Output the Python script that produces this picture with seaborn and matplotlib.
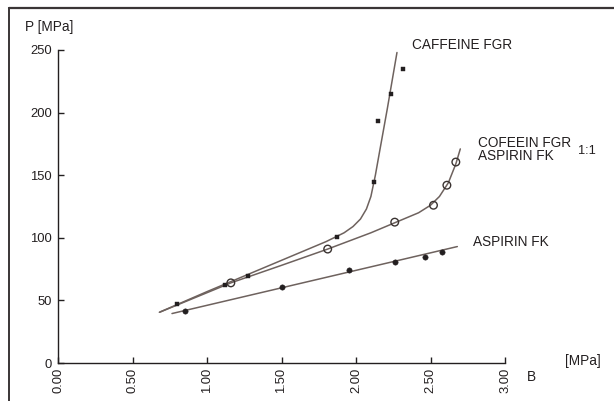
import matplotlib
matplotlib.use("Agg")
import matplotlib.pyplot as plt
import seaborn as sns

# Measured points: pressure P [MPa] against B [MPa]
caffeine_b = [0.80, 1.12, 1.275, 1.87, 2.12, 2.15, 2.235, 2.315]
caffeine_p = [47, 62, 69.5, 100.5, 144.5, 193, 215, 235]

mix_b = [1.16, 1.81, 2.26, 2.52, 2.61, 2.67]
mix_p = [64, 91, 112.5, 126, 142, 160.5]

aspirin_b = [0.85, 1.50, 1.95, 2.26, 2.46, 2.58]
aspirin_p = [41.5, 61, 74, 81, 85, 88.5]

# Hand-drawn trend curves through each series
caffeine_curve_b = [0.68, 1.0, 1.5, 1.8, 1.92, 1.98, 2.03, 2.07, 2.10, 2.13, 2.16, 2.21, 2.275]
caffeine_curve_p = [40.5, 57, 82, 97, 104, 109, 115, 123, 133, 150, 170, 203, 248]

mix_curve_b = [0.685, 1.16, 1.5, 1.81, 2.1, 2.3, 2.42, 2.5, 2.56, 2.62, 2.67, 2.70]
mix_curve_p = [40.7, 64, 78, 91, 104, 114, 120, 126, 133, 144, 159, 171]

aspirin_curve_b = [0.765, 2.68]
aspirin_curve_p = [39.5, 93]

x_ticks = [0.0, 0.5, 1.0, 1.5, 2.0, 2.5, 3.0]
x_tick_labels = ["0.00", "0.50", "1.00", "1.50", "2.00", "2.50", "3.00"]
y_ticks = [0, 50, 100, 150, 200, 250]

sns.set_style("ticks")
plt.rcParams["font.family"] = ["Liberation Sans", "DejaVu Sans"]

ink = "#231f20"
line_col = "#6e625e"

fig = plt.figure(figsize=(6.14, 4.01), dpi=100)
ax = fig.add_axes([58 / 614, 38 / 401, 447 / 614, 313 / 401])

curves = [
    (caffeine_curve_b, caffeine_curve_p),
    (mix_curve_b, mix_curve_p),
    (aspirin_curve_b, aspirin_curve_p),
]
for cb, cp in curves:
    sns.lineplot(x=cb, y=cp, ax=ax, sort=False, color=line_col, lw=1.1,
                 estimator=None, zorder=2)

sns.scatterplot(x=caffeine_b, y=caffeine_p, ax=ax, marker="s", s=9,
                color=ink, edgecolor=ink, linewidth=0.3, zorder=3)
sns.scatterplot(x=aspirin_b, y=aspirin_p, ax=ax, marker="o", s=15,
                color=ink, edgecolor=ink, linewidth=0.3, zorder=3)
sns.scatterplot(x=mix_b, y=mix_p, ax=ax, marker="o", s=30,
                facecolor="none", edgecolor="#3a3331", linewidth=1.0, zorder=3)

ax.set_xlim(0, 3)
ax.set_ylim(0, 250)
ax.set_xticks(x_ticks)
ax.set_xticklabels(x_tick_labels, rotation=90, va="top")
ax.set_yticks(y_ticks)
ax.tick_params(axis="both", direction="in", length=4.5, width=1.0, colors=ink,
               labelsize=9.4)
ax.tick_params(axis="x", pad=3.5)
ax.tick_params(axis="y", pad=4.5)
sns.despine(ax=ax)
for side in ("left", "bottom"):
    ax.spines[side].set_color(ink)
    ax.spines[side].set_linewidth(1.0)
ax.set_xlabel("")
ax.set_ylabel("")

fs = 9.8
lab = dict(color=ink, fontsize=fs, va="center", ha="left", clip_on=False)
ax.text(2.376, 254, "CAFFEINE FGR", **lab)
ax.text(2.82, 176, "COFEEIN FGR", **lab)
ax.text(2.82, 165, "ASPIRIN FK", **lab)
ax.text(3.49, 169.5, "1:1", color=ink, fontsize=9.2, va="center", ha="left")
ax.text(2.785, 97, "ASPIRIN FK", **lab)
ax.text(3.40, 1.6, "[MPa]", color=ink, fontsize=fs, va="center", ha="left")
ax.text(3.15, -11, "B", color=ink, fontsize=fs, va="center", ha="left")
ax.text(-0.22, 268, "P [MPa]", color=ink, fontsize=fs, va="center", ha="left")

# Open frame along the top and left edges of the figure
fig.add_artist(plt.Line2D([9 / 614, 9 / 614], [0, 1 - 8 / 401],
                          transform=fig.transFigure, color="#3a3536", lw=1.4))
fig.add_artist(plt.Line2D([9 / 614, 1], [1 - 8 / 401, 1 - 8 / 401],
                          transform=fig.transFigure, color="#3a3536", lw=1.6))

fig.savefig("out.png", dpi=100)
